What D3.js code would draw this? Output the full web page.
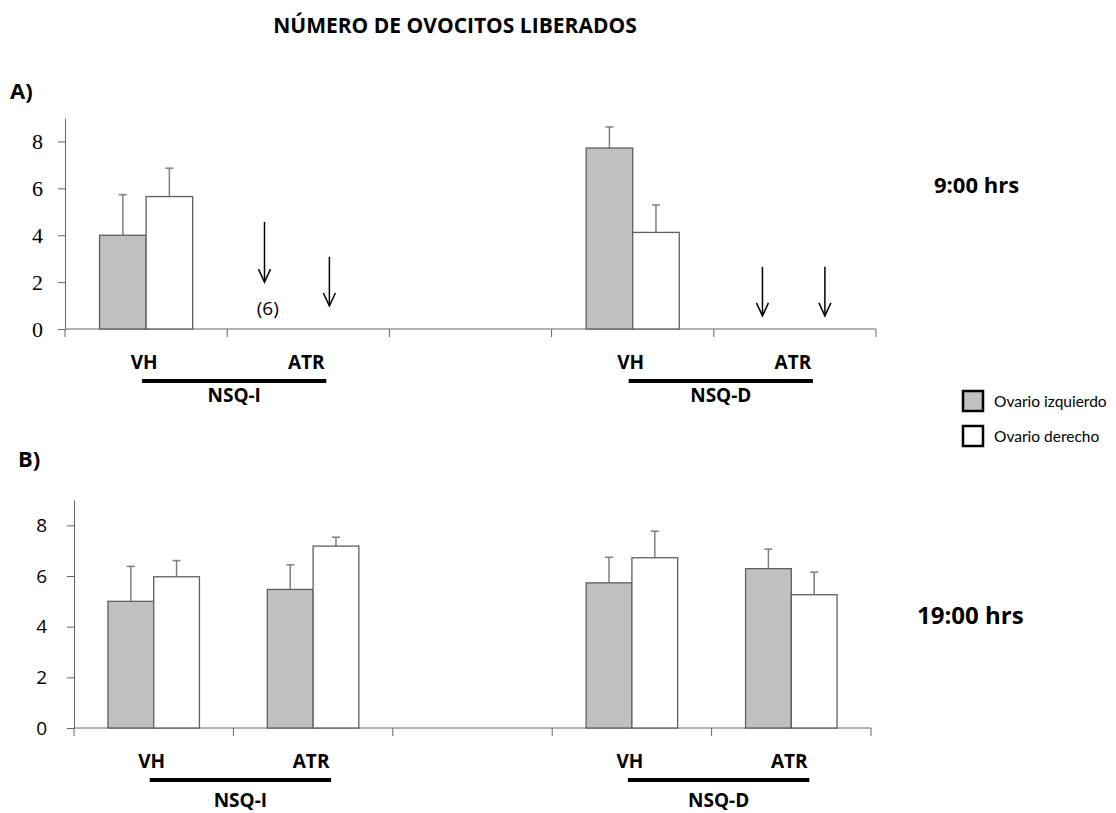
<!DOCTYPE html>
<html>
<head>
<meta charset="utf-8">
<script src="https://cdn.jsdelivr.net/npm/d3@7"></script>
<style>
  body { margin: 0; background: #fff; }
  svg text { font-family: "Open Sans", sans-serif; fill: #000; }
</style>
</head>
<body>
<svg id="chart" width="1116" height="813"></svg>
<script>
// categories along x (third slot is an empty gap between the two NSQ groups)
const categories = ["I-VH", "I-ATR", "gap", "D-VH", "D-ATR"];
const catLabels  = ["VH", "ATR", "", "VH", "ATR"];
const groups     = [{ name: "NSQ-I", from: "I-VH", to: "I-ATR" }, { name: "NSQ-D", from: "D-VH", to: "D-ATR" }];
const seriesNames = ["Ovario izquierdo", "Ovario derecho"];
const yTicks = [0, 2, 4, 6, 8];

// A) 9:00 hrs
const aIzq    = [4.0, 0, null, 7.72, 0];
const aIzqErr = [1.73, 0, null, 0.9, 0];
const aDer    = [5.65, 0, null, 4.12, 0];
const aDerErr = [1.21, 0, null, 1.17, 0];
// arrows marking zero ovulation (pos = fraction across the category)
const aArrows = [
  { cat: "I-ATR", pos: 0.23, from: 4.57, to: 2.0 },
  { cat: "I-ATR", pos: 0.63, from: 3.08, to: 0.98 },
  { cat: "D-ATR", pos: 0.30, from: 2.65, to: 0.56 },
  { cat: "D-ATR", pos: 0.685, from: 2.65, to: 0.56 }
];
const aNotes = [{ cat: "I-ATR", pos: 0.25, y: 0.9, text: "(6)" }];

// B) 19:00 hrs
const bIzq    = [5.0, 5.47, null, 5.73, 6.29];
const bIzqErr = [1.38, 0.97, null, 1.01, 0.77];
const bDer    = [5.97, 7.18, null, 6.72, 5.26];
const bDerErr = [0.64, 0.35, null, 1.05, 0.89];

const fills = ["#c0c0c0", "#ffffff"];
const axisColor = "#666";

const svg = d3.select("#chart");

svg.append("text")
  .attr("x", 455).attr("y", 33)
  .attr("text-anchor", "middle")
  .style("font-weight", "bold").style("font-size", "21px")
  .text("NÚMERO DE OVOCITOS LIBERADOS");

function drawPanel(opt) {
  const g = svg.append("g");
  const x = d3.scaleBand().domain(categories).range([opt.x0, opt.x1]);
  const y = d3.scaleLinear().domain([0, 9]).range([opt.y0, opt.yTop]);
  const bw = x.bandwidth() * 0.287;

  // y axis
  const yAxis = g.append("g")
    .attr("transform", `translate(${opt.x0},0)`)
    .call(d3.axisLeft(y).tickValues(yTicks).tickSize(7).tickSizeOuter(0).tickPadding(opt.tickPad));
  yAxis.selectAll("path, line").attr("stroke", axisColor);
  yAxis.selectAll("text")
    .style("font-family", opt.tickFont)
    .style("font-size", opt.tickSize)
    .attr("fill", "#000");

  // x axis: baseline with ticks at category boundaries
  g.append("line")
    .attr("x1", opt.x0).attr("x2", opt.x1)
    .attr("y1", y(0)).attr("y2", y(0))
    .attr("stroke", axisColor);
  const bounds = categories.map(c => x(c)).concat([x.range()[1]]);
  g.selectAll(".xtick").data(bounds).join("line")
    .attr("x1", d => d).attr("x2", d => d)
    .attr("y1", y(0)).attr("y2", y(0) + 8)
    .attr("stroke", axisColor);

  // bars + error bars
  const series = [
    { vals: opt.izq, err: opt.izqErr, fill: fills[0], off: -1 },
    { vals: opt.der, err: opt.derErr, fill: fills[1], off: 0 }
  ];
  series.forEach(s => {
    const data = categories.map((c, i) => ({ c, v: s.vals[i], e: s.err[i] }))
      .filter(d => d.v);
    const cx = d => x(d.c) + x.bandwidth() / 2 + s.off * bw;
    g.selectAll(null).data(data).join("line")
      .attr("x1", d => cx(d) + bw / 2).attr("x2", d => cx(d) + bw / 2)
      .attr("y1", d => y(d.v)).attr("y2", d => y(d.v + d.e))
      .attr("stroke", "#7f7f7f").attr("stroke-width", 1.5);
    g.selectAll(null).data(data).join("line")
      .attr("x1", d => cx(d) + bw / 2 - 4).attr("x2", d => cx(d) + bw / 2 + 4)
      .attr("y1", d => y(d.v + d.e)).attr("y2", d => y(d.v + d.e))
      .attr("stroke", "#7f7f7f").attr("stroke-width", 1.5);
    g.selectAll(null).data(data).join("rect")
      .attr("x", cx).attr("width", bw)
      .attr("y", d => y(d.v)).attr("height", d => y(0) - y(d.v))
      .attr("fill", s.fill)
      .attr("stroke", "#5f5f5f").attr("stroke-width", 1.3);
  });

  // arrows
  (opt.arrows || []).forEach(a => {
    const ax = x(a.cat) + a.pos * x.bandwidth();
    g.append("line").attr("x1", ax).attr("x2", ax)
      .attr("y1", y(a.from)).attr("y2", y(a.to))
      .attr("stroke", "#000").attr("stroke-width", 1.5);
    g.append("path")
      .attr("d", `M${ax - 6},${y(a.to) - 13}L${ax},${y(a.to)}L${ax + 6},${y(a.to) - 13}`)
      .attr("fill", "none").attr("stroke", "#000").attr("stroke-width", 1.5);
  });
  (opt.notes || []).forEach(n => {
    g.append("text")
      .attr("x", x(n.cat) + n.pos * x.bandwidth()).attr("y", y(n.y) + 7)
      .attr("text-anchor", "middle").style("font-size", "19px")
      .text(n.text);
  });

  // category labels
  const labY = y(0) + 40;
  g.selectAll(null).data(categories.filter((c, i) => catLabels[i])).join("text")
    .attr("x", c => x(c) + x.bandwidth() / 2 - 2)
    .attr("y", labY)
    .attr("text-anchor", "middle")
    .style("font-weight", "bold").style("font-size", "19px")
    .text(c => catLabels[categories.indexOf(c)]);

  // group underlines
  groups.forEach(gr => {
    const xs = x(gr.from) + x.bandwidth() / 2 - 4;
    const xe = x(gr.to) + x.bandwidth() / 2 + 18;
    g.append("line")
      .attr("x1", xs).attr("x2", xe)
      .attr("y1", y(0) + 52).attr("y2", y(0) + 52)
      .attr("stroke", "#000").attr("stroke-width", 4);
    g.append("text")
      .attr("x", (xs + xe) / 2).attr("y", y(0) + opt.groupDy)
      .attr("text-anchor", "middle")
      .style("font-weight", "bold").style("font-size", "19px")
      .text(gr.name);
  });

  svg.append("text")
    .attr("x", opt.lx).attr("y", opt.ly)
    .style("font-weight", "bold").style("font-size", "22px")
    .text(opt.label);
  svg.append("text")
    .attr("x", opt.hx).attr("y", opt.hy)
    .style("font-weight", "bold").style("font-size", opt.hSize)
    .text(opt.hours);
}

drawPanel({
  x0: 65, x1: 876, y0: 329, yTop: 118,
  izq: aIzq, izqErr: aIzqErr, der: aDer, derErr: aDerErr,
  arrows: aArrows, notes: aNotes, groupDy: 73,
  tickFont: "'Liberation Serif', serif", tickSize: "22px", tickPad: 15,
  label: "A)", lx: 10, ly: 99, hours: "9:00 hrs", hx: 934, hy: 193, hSize: "22px"
});

drawPanel({
  x0: 74, x1: 871, y0: 728, yTop: 500,
  izq: bIzq, izqErr: bIzqErr, der: bDer, derErr: bDerErr, groupDy: 79,
  tickFont: "'Open Sans', sans-serif", tickSize: "19px", tickPad: 20,
  label: "B)", lx: 18, ly: 467, hours: "19:00 hrs", hx: 917, hy: 624, hSize: "24px"
});

// legend
const legend = svg.append("g").attr("transform", "translate(963,391)");
seriesNames.forEach((n, i) => {
  legend.append("rect")
    .attr("x", 0).attr("y", i * 35).attr("width", 20).attr("height", 20)
    .attr("fill", fills[i]).attr("stroke", "#000").attr("stroke-width", 2.5);
  legend.append("text")
    .attr("x", 31).attr("y", i * 35 + 16)
    .style("font-family", "Lato, sans-serif")
    .style("font-size", "15.5px")
    .text(n);
});
</script>
</body>
</html>
